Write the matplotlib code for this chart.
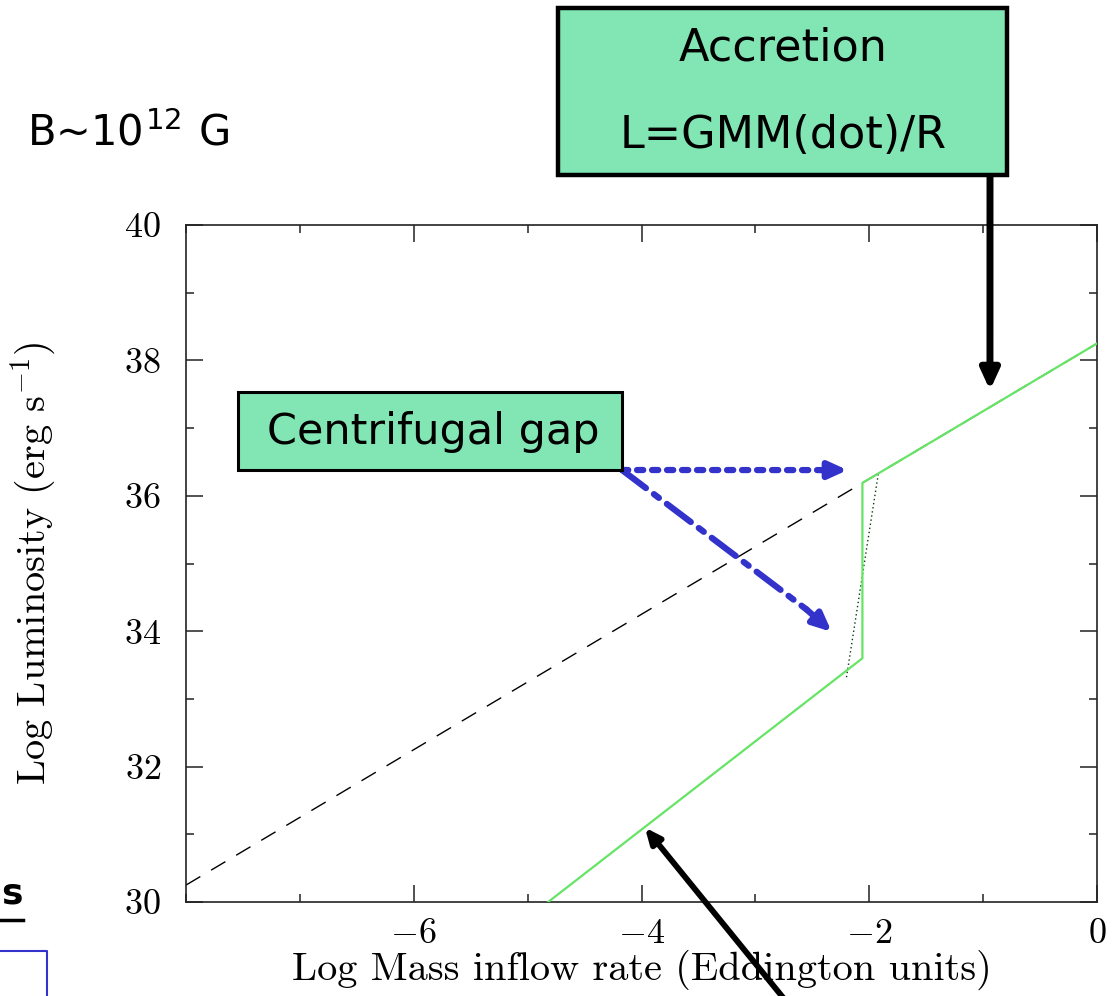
import numpy as np
import matplotlib
matplotlib.use("Agg")
import matplotlib.pyplot as plt
from matplotlib.patches import Rectangle

plt.rcParams['font.family'] = 'serif'
plt.rcParams['font.serif'] = ['cmr10']
plt.rcParams['mathtext.fontset'] = 'cm'
plt.rcParams['axes.formatter.use_mathtext'] = True

# pure accretion luminosity, L = G M Mdot / R
acc_logm = [-8.0, 0.0]
acc_logl = [30.25, 38.25]

# propeller branch with the centrifugal gap
prop_logm = [-4.82, -2.06, -2.06, 0.0]
prop_logl = [30.0, 33.6, 36.19, 38.25]

# smooth transition across the gap
trans_logm = [-2.2, -1.92]
trans_logl = [33.32, 36.33]

W, H = 1113, 996
fig = plt.figure(figsize=(W / 100, H / 100), dpi=100)
ax = fig.add_axes([186 / W, 1 - 902 / H, (1097 - 186) / W, (902 - 225) / H])

def fpx(x, y):
    # pixel position -> figure fraction
    return (x / W, 1 - y / H)

ax.plot(acc_logm, acc_logl, color='black', lw=1.0, ls=(0, (12, 9)), zorder=2)
ax.plot(trans_logm, trans_logl, color='#0a3a0a', lw=1.0, ls=(0, (1, 2)), zorder=3)
ax.plot(prop_logm, prop_logl, color='#66e466', lw=1.6, zorder=4)

ax.set_xlim(-8, 0)
ax.set_ylim(30, 40)
ax.set_xticks([-6, -4, -2, 0])
ax.set_xticks(np.arange(-8, 1, 1), minor=True)
ax.set_yticks([30, 32, 34, 36, 38, 40])
ax.set_yticks(np.arange(30, 41, 1), minor=True)
ax.tick_params(which='both', direction='in', top=True, right=True, width=1.1,
               labelsize=26, color='#222222')
ax.tick_params(which='major', length=12)
ax.tick_params(which='minor', length=6)
ax.tick_params(axis='y', pad=18)
ax.tick_params(axis='x', pad=12)
for s in ax.spines.values():
    s.set_linewidth(1.2)
    s.set_color('#222222')

ax.set_xlabel('Log Mass inflow rate (Eddington units)', fontsize=29)
ax.set_ylabel(r'Log Luminosity (erg s$^{-1}$)', fontsize=29)
ax.xaxis.set_label_coords(0.5, -0.07)
ax.yaxis.set_label_coords(-0.14, 0.5)

box_fc = '#82e5b4'
sans = ['DejaVu Sans']

# Accretion box
x0, y0 = fpx(558, 175)
x1, y1 = fpx(1007, 8)
fig.patches.append(Rectangle((x0, y0), x1 - x0, y1 - y0, transform=fig.transFigure,
                             facecolor=box_fc, edgecolor='black', lw=3.2, zorder=5))
fig.text(*fpx(783, 48), 'Accretion', family=sans, fontsize=32,
         ha='center', va='center', zorder=6)
fig.text(*fpx(783, 135), 'L=GMM(dot)/R', family=sans, fontsize=32,
         ha='center', va='center', zorder=6)

# Centrifugal gap box
x0, y0 = fpx(238, 470)
x1, y1 = fpx(622, 392)
fig.patches.append(Rectangle((x0, y0), x1 - x0, y1 - y0, transform=fig.transFigure,
                             facecolor=box_fc, edgecolor='black', lw=2.2, zorder=5))
fig.text(*fpx(433, 432), 'Centrifugal gap', family=sans, fontsize=31,
         ha='center', va='center', zorder=6)

fig.text(*fpx(27, 133), r'B~10$^{\mathregular{12}}$ G', family=sans, fontsize=30,
         ha='left', va='center')

# black arrows
ax.annotate('', xy=(-0.94, 37.56), xytext=fpx(990, 168), textcoords='figure fraction',
            arrowprops=dict(arrowstyle='-|>,head_length=1.2,head_width=0.55',
                            color='black', lw=5, shrinkA=0, shrinkB=0),
            annotation_clip=False)
ax.annotate('', xy=(-3.97, 31.1), xytext=fpx(785, 1000), textcoords='figure fraction',
            arrowprops=dict(arrowstyle='-|>,head_length=0.9,head_width=0.4',
                            color='black', lw=4.2, shrinkA=0, shrinkB=0),
            annotation_clip=False)

# blue arrows: styled shaft plus a solid head
blue = '#3333cc'
start = fpx(622, 470)
for tip, neck, style in [((-2.19, 36.38), (-2.42, 36.38), (0, (1.0, 1.4))),
                         ((-2.33, 33.99), (-2.55, 34.32), (0, (4.8, 1.6, 1.0, 1.6)))]:
    ax.annotate('', xy=neck, xytext=start, textcoords='figure fraction',
                arrowprops=dict(arrowstyle='-', color=blue, lw=4.5, ls=style,
                                shrinkA=0, shrinkB=0),
                annotation_clip=False)
    ax.annotate('', xy=tip, xytext=neck,
                arrowprops=dict(arrowstyle='-|>,head_length=1.1,head_width=0.5',
                                color=blue, lw=4.5, shrinkA=0, shrinkB=0),
                annotation_clip=False)

# fragments from the neighbouring slide content
fig.text(*fpx(1, 893), 's', family=sans, fontsize=26, fontweight='bold',
         ha='left', va='center')
fig.lines.append(plt.Line2D([0, 23 / W], [1 - 920 / H, 1 - 920 / H],
                            transform=fig.transFigure, color='black', lw=2.5))
fig.lines.append(plt.Line2D([0, 47 / W, 47 / W], [1 - 951 / H, 1 - 951 / H, 0],
                            transform=fig.transFigure, color=blue, lw=1.5))

fig.savefig('out.png', dpi=100)
